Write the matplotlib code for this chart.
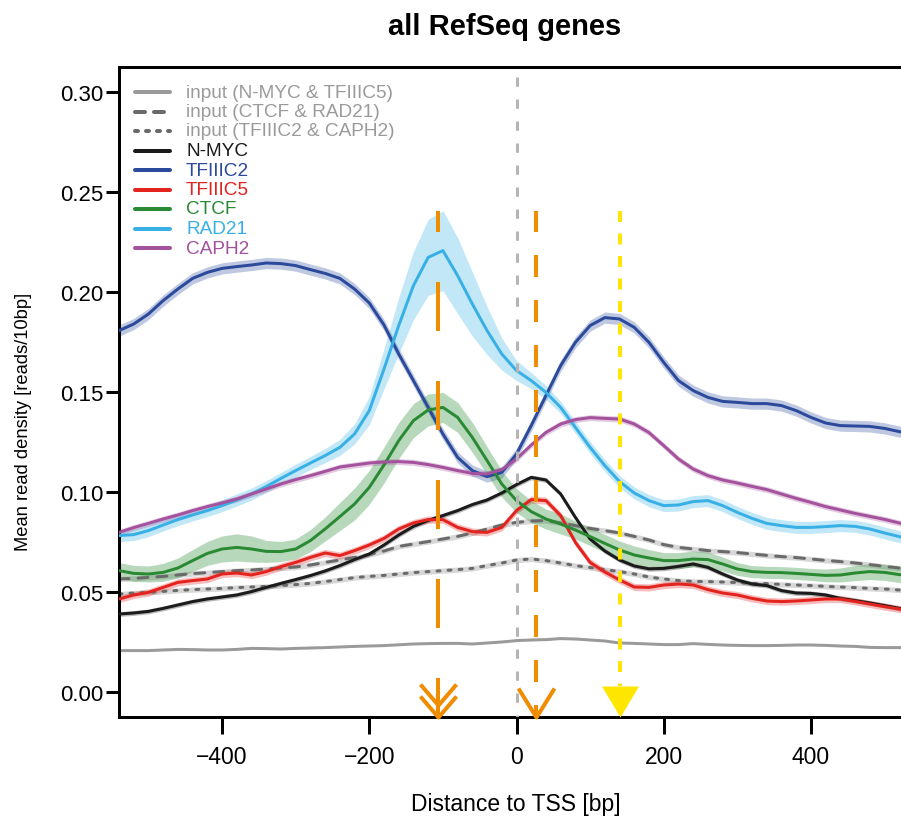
import numpy as np
import matplotlib
matplotlib.use("Agg")
import matplotlib.pyplot as plt
from matplotlib.path import Path
from matplotlib.markers import MarkerStyle

plt.rcParams['font.family'] = ['Liberation Sans', 'DejaVu Sans']
plt.rcParams['lines.scale_dashes'] = False

# ---------------------------------------------------------------- data
distance = np.arange(-540, 541, 20)  # bp relative to TSS

n_myc = [0.0390, 0.0395, 0.0403, 0.0418, 0.0435,
         0.0452, 0.0465, 0.0475, 0.0485, 0.0502,
         0.0523, 0.0543, 0.0562, 0.0582, 0.0605,
         0.0632, 0.0662, 0.0690, 0.0735, 0.0785,
         0.0828, 0.0858, 0.0882, 0.0907, 0.0937,
         0.0960, 0.0995, 0.1037, 0.1073, 0.1060,
         0.0990, 0.0873, 0.0765, 0.0705, 0.0660,
         0.0630, 0.0616, 0.0618, 0.0628, 0.0640,
         0.0623, 0.0590, 0.0560, 0.0540, 0.0532,
         0.0507, 0.0495, 0.0493, 0.0485, 0.0468,
         0.0457, 0.0445, 0.0432, 0.0418, 0.0405]

tfiiic2 = [0.1807, 0.1840, 0.1890, 0.1957, 0.2015,
           0.2068, 0.2098, 0.2118, 0.2127, 0.2135,
           0.2145, 0.2142, 0.2132, 0.2112, 0.2093,
           0.2068, 0.2015, 0.1945, 0.1835, 0.1690,
           0.1557, 0.1423, 0.1290, 0.1173, 0.1107,
           0.1077, 0.1098, 0.1190, 0.1332, 0.1482,
           0.1632, 0.1748, 0.1832, 0.1872, 0.1865,
           0.1823, 0.1748, 0.1648, 0.1557, 0.1507,
           0.1473, 0.1453, 0.1448, 0.1442, 0.1442,
           0.1432, 0.1407, 0.1373, 0.1345, 0.1332,
           0.1330, 0.1328, 0.1318, 0.1302, 0.1290]

tfiiic5 = [0.0465, 0.0485, 0.0498, 0.0523, 0.0548,
           0.0557, 0.0565, 0.0590, 0.0595, 0.0585,
           0.0602, 0.0627, 0.0648, 0.0673, 0.0695,
           0.0682, 0.0707, 0.0735, 0.0768, 0.0815,
           0.0845, 0.0862, 0.0862, 0.0823, 0.0802,
           0.0798, 0.0823, 0.0907, 0.0962, 0.0957,
           0.0882, 0.0748, 0.0648, 0.0600, 0.0560,
           0.0525, 0.0523, 0.0535, 0.0540, 0.0535,
           0.0512, 0.0495, 0.0485, 0.0468, 0.0455,
           0.0452, 0.0455, 0.0460, 0.0465, 0.0465,
           0.0453, 0.0440, 0.0427, 0.0415, 0.0405]

ctcf = [0.0607, 0.0593, 0.0590, 0.0598, 0.0620,
        0.0657, 0.0693, 0.0715, 0.0723, 0.0715,
        0.0703, 0.0702, 0.0715, 0.0757, 0.0815,
        0.0877, 0.0940, 0.1023, 0.1135, 0.1257,
        0.1357, 0.1410, 0.1423, 0.1373, 0.1273,
        0.1157, 0.1040, 0.0957, 0.0902, 0.0865,
        0.0840, 0.0810, 0.0777, 0.0743, 0.0710,
        0.0685, 0.0670, 0.0657, 0.0657, 0.0665,
        0.0662, 0.0640, 0.0615, 0.0602, 0.0598,
        0.0597, 0.0593, 0.0588, 0.0583, 0.0585,
        0.0595, 0.0602, 0.0598, 0.0587, 0.0580]

rad21 = [0.0782, 0.0787, 0.0807, 0.0835, 0.0862,
         0.0885, 0.0907, 0.0932, 0.0960, 0.0990,
         0.1027, 0.1068, 0.1107, 0.1145, 0.1182,
         0.1223, 0.1290, 0.1407, 0.1615, 0.1832,
         0.2032, 0.2173, 0.2207, 0.2082, 0.1940,
         0.1807, 0.1690, 0.1607, 0.1557, 0.1498,
         0.1423, 0.1323, 0.1223, 0.1132, 0.1052,
         0.0995, 0.0957, 0.0932, 0.0935, 0.0952,
         0.0957, 0.0932, 0.0898, 0.0868, 0.0843,
         0.0832, 0.0823, 0.0823, 0.0827, 0.0832,
         0.0828, 0.0815, 0.0795, 0.0777, 0.0760]

caph2 = [0.0798, 0.0822, 0.0843, 0.0865, 0.0885,
         0.0907, 0.0927, 0.0945, 0.0965, 0.0990,
         0.1015, 0.1040, 0.1062, 0.1082, 0.1103,
         0.1125, 0.1135, 0.1145, 0.1150, 0.1152,
         0.1148, 0.1137, 0.1123, 0.1107, 0.1093,
         0.1090, 0.1112, 0.1165, 0.1235, 0.1298,
         0.1340, 0.1362, 0.1372, 0.1368, 0.1365,
         0.1340, 0.1297, 0.1232, 0.1165, 0.1115,
         0.1082, 0.1060, 0.1045, 0.1028, 0.1012,
         0.0990, 0.0968, 0.0948, 0.0927, 0.0910,
         0.0893, 0.0878, 0.0863, 0.0845, 0.0830]

input_nmyc_tfiiic5 = [0.0207, 0.0207, 0.0207, 0.0210, 0.0213,
                      0.0212, 0.0210, 0.0210, 0.0213, 0.0218,
                      0.0217, 0.0215, 0.0218, 0.0220, 0.0222,
                      0.0225, 0.0228, 0.0230, 0.0232, 0.0236,
                      0.0240, 0.0242, 0.0243, 0.0243, 0.0240,
                      0.0245, 0.0250, 0.0257, 0.0260, 0.0262,
                      0.0267, 0.0265, 0.0260, 0.0255, 0.0245,
                      0.0243, 0.0240, 0.0237, 0.0237, 0.0242,
                      0.0238, 0.0235, 0.0233, 0.0232, 0.0232,
                      0.0233, 0.0235, 0.0235, 0.0233, 0.0230,
                      0.0228, 0.0223, 0.0222, 0.0222, 0.0221]

input_ctcf_rad21 = [0.0565, 0.0568, 0.0573, 0.0578, 0.0585,
                    0.0592, 0.0597, 0.0602, 0.0607, 0.0610,
                    0.0615, 0.0620, 0.0625, 0.0635, 0.0648,
                    0.0660, 0.0673, 0.0687, 0.0705, 0.0728,
                    0.0740, 0.0752, 0.0765, 0.0778, 0.0795,
                    0.0815, 0.0835, 0.0848, 0.0855, 0.0857,
                    0.0845, 0.0832, 0.0818, 0.0807, 0.0795,
                    0.0778, 0.0760, 0.0737, 0.0723, 0.0715,
                    0.0707, 0.0702, 0.0697, 0.0690, 0.0683,
                    0.0677, 0.0672, 0.0665, 0.0658, 0.0652,
                    0.0645, 0.0637, 0.0628, 0.0620, 0.0613]

input_tfiiic2_caph2 = [0.0490, 0.0495, 0.0498, 0.0503, 0.0508,
                       0.0512, 0.0515, 0.0518, 0.0522, 0.0525,
                       0.0528, 0.0532, 0.0537, 0.0543, 0.0552,
                       0.0562, 0.0572, 0.0578, 0.0583, 0.0590,
                       0.0597, 0.0602, 0.0607, 0.0612, 0.0618,
                       0.0632, 0.0645, 0.0660, 0.0665, 0.0657,
                       0.0645, 0.0632, 0.0622, 0.0612, 0.0602,
                       0.0590, 0.0575, 0.0565, 0.0557, 0.0553,
                       0.0552, 0.0550, 0.0547, 0.0543, 0.0542,
                       0.0538, 0.0535, 0.0532, 0.0528, 0.0525,
                       0.0522, 0.0518, 0.0515, 0.0510, 0.0507]

# half-width of the confidence bands
rad21_err = [0.0030, 0.0030, 0.0030, 0.0030, 0.0030,
             0.0030, 0.0030, 0.0030, 0.0030, 0.0030,
             0.0030, 0.0030, 0.0032, 0.0033, 0.0035,
             0.0040, 0.0050, 0.0070, 0.0100, 0.0140,
             0.0170, 0.0190, 0.0200, 0.0190, 0.0160,
             0.0120, 0.0080, 0.0050, 0.0040, 0.0035,
             0.0030, 0.0030, 0.0030, 0.0030, 0.0030,
             0.0030, 0.0030, 0.0030, 0.0030, 0.0030,
             0.0030, 0.0030, 0.0030, 0.0030, 0.0030,
             0.0030, 0.0030, 0.0030, 0.0030, 0.0030,
             0.0030, 0.0030, 0.0030, 0.0030, 0.0030]

ctcf_err = [0.0040, 0.0040, 0.0040, 0.0045, 0.0050,
            0.0055, 0.0060, 0.0065, 0.0068, 0.0065,
            0.0055, 0.0050, 0.0050, 0.0055, 0.0060,
            0.0070, 0.0080, 0.0085, 0.0090, 0.0090,
            0.0085, 0.0080, 0.0075, 0.0075, 0.0075,
            0.0070, 0.0065, 0.0060, 0.0055, 0.0050,
            0.0050, 0.0045, 0.0045, 0.0045, 0.0045,
            0.0045, 0.0042, 0.0040, 0.0040, 0.0040,
            0.0038, 0.0035, 0.0032, 0.0030, 0.0030,
            0.0030, 0.0030, 0.0030, 0.0032, 0.0035,
            0.0038, 0.0040, 0.0040, 0.0040, 0.0040]

tfiiic2_err = 0.0028
tfiiic5_err = 0.0018
n_myc_err = 0.0012
caph2_err = 0.0015
input_err = 0.0013

# positions of the highlighted peaks (bp)
orange_peaks = [-106, 26]
yellow_peak = 141

y_ticks = [0.00, 0.05, 0.10, 0.15, 0.20, 0.25, 0.30]
x_ticks = [-400, -200, 0, 200, 400]

# ---------------------------------------------------------------- layout
W, H = 901, 820
PX = 72.0 / 100.0          # points per pixel
fig = plt.figure(figsize=(W / 100, H / 100), dpi=100)
fig.patch.set_facecolor('white')

ax_l, ax_r, ax_t, ax_b = 119, 914, 68, 718
ax = fig.add_axes([ax_l / W, 1 - ax_b / H, (ax_r - ax_l) / W, (ax_b - ax_t) / H])
ylo, yhi = -0.0125, 0.3125
ax.set_xlim(-540, 540)
ax.set_ylim(ylo, yhi)
y_per_px = (yhi - ylo) / (ax_b - ax_t)

C_BLACK = '#1b1b1b'
C_BLUE = '#2b4a9c'
C_RED = '#e3231e'
C_GREEN = '#2a8a33'
C_CYAN = '#38b0e6'
C_PURPLE = '#a4529d'
C_INPUT = '#9a9a9a'
C_INPUT_DARK = '#6a6a6a'
C_ORANGE = '#f08c00'
C_YELLOW = '#ffe600'

LW = 3 * PX
DASHED = (0, (10 * PX, 9 * PX))
DOTTED = (0, (3 * PX, 8 * PX))

x = distance


def band(values, err, color, alpha):
    v = np.asarray(values)
    e = np.asarray(err) if np.ndim(err) else np.full_like(v, err)
    ax.fill_between(x, v - e, v + e, color=color, alpha=alpha, lw=0, zorder=1)


# input curves
ax.plot(x, input_nmyc_tfiiic5, color=C_INPUT, lw=LW, zorder=2)
band(input_ctcf_rad21, input_err, '#bdbdbd', 0.6)
band(input_tfiiic2_caph2, input_err, '#bdbdbd', 0.6)
ax.plot(x, input_ctcf_rad21, color=C_INPUT_DARK, lw=LW, ls=DASHED,
        dash_capstyle='round', zorder=2)
ax.plot(x, input_tfiiic2_caph2, color=C_INPUT_DARK, lw=LW, ls=DOTTED,
        dash_capstyle='round', zorder=2)

# confidence bands
band(n_myc, n_myc_err, C_BLACK, 0.3)
band(tfiiic2, tfiiic2_err, C_BLUE, 0.3)
band(tfiiic5, tfiiic5_err, C_RED, 0.3)
band(ctcf, ctcf_err, C_GREEN, 0.33)
band(rad21, rad21_err, C_CYAN, 0.3)
band(caph2, caph2_err, C_PURPLE, 0.3)

# ChIP profiles
for vals, col in [(n_myc, C_BLACK), (tfiiic2, C_BLUE), (tfiiic5, C_RED),
                  (ctcf, C_GREEN), (rad21, C_CYAN), (caph2, C_PURPLE)]:
    ax.plot(x, vals, color=col, lw=LW, zorder=3, solid_capstyle='round',
            solid_joinstyle='round')

# TSS line
ax.plot([0, 0], [yhi, ylo], color='#b5b5b5', lw=LW,
        ls=(12 * PX, (9.3 * PX, 12.7 * PX)), zorder=4)

# peak indicators
top_val = 0.2405
ax.plot([orange_peaks[0]] * 2, [top_val, ylo], color=C_ORANGE, lw=4 * PX,
        ls=(28 * PX, (49 * PX, 50 * PX)), zorder=5, clip_on=False)
ax.plot([orange_peaks[1]] * 2, [top_val, ylo], color=C_ORANGE, lw=4 * PX,
        ls=(1 * PX, (22 * PX, 23 * PX)), zorder=5, clip_on=False)
tri_h = 31
ax.plot([yellow_peak] * 2, [top_val, ylo + tri_h * y_per_px], color=C_YELLOW,
        lw=4 * PX, ls=(0, (11 * PX, 11.5 * PX)), zorder=5)


def chevron(half_w, height):
    path = Path([(-half_w, height), (0, 0), (half_w, height)],
                [Path.MOVETO, Path.LINETO, Path.LINETO])
    return MarkerStyle(path, joinstyle='miter'), 2 * max(half_w, height) * PX


m_single, s_single = chevron(18, 29)
m_double, s_double = chevron(18, 21)
ax.plot([orange_peaks[1]], [ylo], marker=m_single, ms=s_single, mfc='none',
        mec=C_ORANGE, mew=4 * PX, zorder=6, clip_on=False, ls='none')
ax.plot([orange_peaks[0]] * 2, [ylo, ylo + 12 * y_per_px], marker=m_double,
        ms=s_double, mfc='none', mec=C_ORANGE, mew=4 * PX, zorder=6,
        clip_on=False, ls='none')

tri = Path([(-18.5, tri_h), (18.5, tri_h), (0, 0), (-18.5, tri_h)],
           [Path.MOVETO, Path.LINETO, Path.LINETO, Path.CLOSEPOLY])
ax.plot([yellow_peak], [ylo], marker=MarkerStyle(tri, joinstyle='miter'),
        ms=2 * tri_h * PX, mfc=C_YELLOW, mec='none', zorder=6, clip_on=False,
        ls='none')

# axes styling
for side in ('left', 'top', 'bottom'):
    ax.spines[side].set_linewidth(3 * PX)
ax.spines['right'].set_visible(False)
ax.set_xticks(x_ticks)
ax.set_yticks(y_ticks)
ax.set_yticklabels([f'{v:.2f}' for v in y_ticks])
ax.tick_params(axis='y', direction='out', length=13 * PX, width=3 * PX,
               pad=2, labelsize=16)
ax.tick_params(axis='x', direction='out', length=17 * PX, width=3 * PX,
               pad=8, labelsize=16.5)

fig.text(505 / W, 1 - 27 / H, 'all RefSeq genes', ha='center', va='center',
         fontsize=21, fontweight='bold')
fig.text(516 / W, 1 - 805 / H, 'Distance to TSS [bp]', ha='center',
         va='center', fontsize=16.5)
fig.text(24 / W, 1 - 422 / H, 'Mean read density [reads/10bp]', ha='center',
         va='center', rotation=90, fontsize=13.2)

# legend
legend_rows = [
    ('input (N-MYC & TFIIIC5)', C_INPUT, '-', C_INPUT),
    ('input (CTCF & RAD21)', C_INPUT_DARK, DASHED, C_INPUT),
    ('input (TFIIIC2 & CAPH2)', C_INPUT_DARK, DOTTED, C_INPUT),
    ('N-MYC', C_BLACK, '-', C_BLACK),
    ('TFIIIC2', C_BLUE, '-', C_BLUE),
    ('TFIIIC5', C_RED, '-', C_RED),
    ('CTCF', C_GREEN, '-', C_GREEN),
    ('RAD21', C_CYAN, '-', C_CYAN),
    ('CAPH2', C_PURPLE, '-', C_PURPLE),
]
for i, (label, lcol, lstyle, tcol) in enumerate(legend_rows):
    yy = 1 - (93 + 19.5 * i) / H
    fig.add_artist(plt.Line2D([135 / W, 170 / W], [yy, yy], color=lcol,
                              lw=4 * PX, ls=lstyle, solid_capstyle='round',
                              dash_capstyle='round',
                              transform=fig.transFigure))
    fig.text(186 / W, yy, label, color=tcol, fontsize=13.7, va='center',
             ha='left')

fig.savefig('out.png', dpi=100, facecolor='white')
